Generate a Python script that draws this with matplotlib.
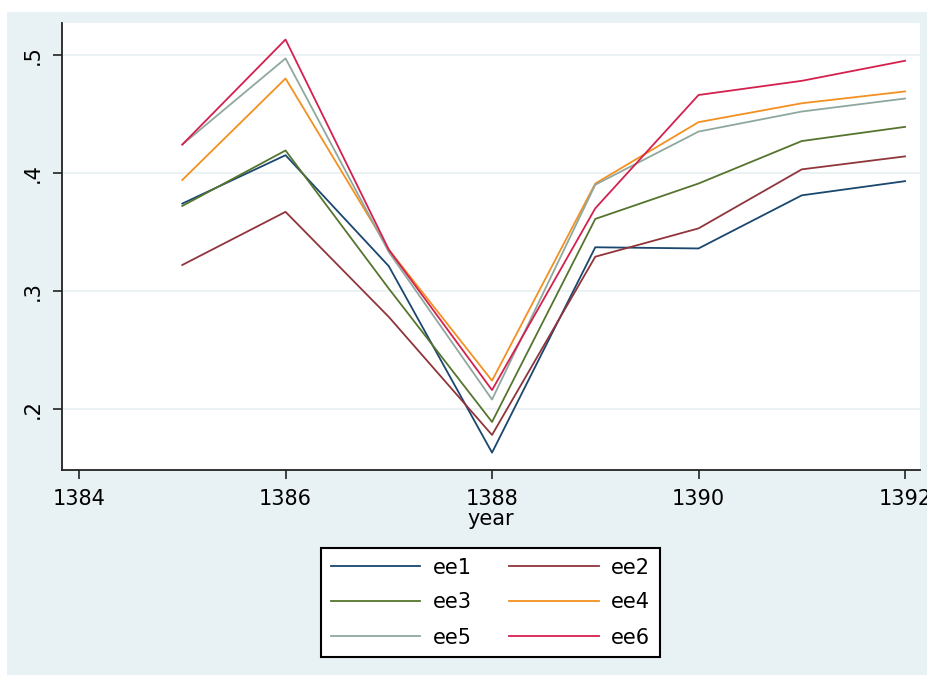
import numpy as np
from matplotlib import pyplot as plt
from matplotlib.patches import Rectangle

# Data
years = [1385, 1386, 1387, 1388, 1389, 1390, 1391, 1392]
ee1 = [0.374, 0.415, 0.321, 0.163, 0.337, 0.336, 0.381, 0.393]
ee2 = [0.322, 0.367, 0.278, 0.178, 0.329, 0.353, 0.403, 0.414]
ee3 = [0.372, 0.419, 0.302, 0.189, 0.361, 0.391, 0.427, 0.439]
ee4 = [0.394, 0.480, 0.335, 0.224, 0.391, 0.443, 0.459, 0.469]
ee5 = [0.424, 0.497, 0.333, 0.208, 0.390, 0.435, 0.452, 0.463]
ee6 = [0.424, 0.513, 0.335, 0.216, 0.370, 0.466, 0.478, 0.495]

series = [ee1, ee2, ee3, ee4, ee5, ee6]
labels = ['ee1', 'ee2', 'ee3', 'ee4', 'ee5', 'ee6']
colors = ['#1a476f', '#90353b', '#55752f', '#f39020', '#8fa89f', '#d4204f']

xticks = [1384, 1386, 1388, 1390, 1392]
yticks = [0.2, 0.3, 0.4, 0.5]
yticklabels = ['.2', '.3', '.4', '.5']

bg = '#e8f1f3'
fontsize = 15
plt.rcParams.update({'font.family': 'DejaVu Sans', 'font.size': fontsize})

fig = plt.figure(figsize=(9.28, 6.75), dpi=100, facecolor='white')
# outer graph region (behind the axes)
fig.patches.append(Rectangle((7/928, 0), 920/928, 663/675, transform=fig.transFigure,
                             facecolor=bg, edgecolor='none', zorder=-10))

ax = fig.add_axes([62/928, 1-470/675, 858/928, 447/675])
ax.set_facecolor('white')

lines = []
for y, lab, c in zip(series, labels, colors):
    ln, = ax.plot(years, y, color=c, lw=1.3, label=lab)
    lines.append(ln)

ax.set_xlim(1383.835, 1392.145)
ax.set_ylim(0.1483, 0.527)
ax.set_xticks(xticks)
ax.set_xticklabels([str(t) for t in xticks])
ax.set_yticks(yticks)
ax.set_yticklabels(yticklabels, rotation=90, va='center')
ax.yaxis.grid(True, color=bg, lw=1.3)
ax.set_axisbelow(True)

for s in ['top', 'right']:
    ax.spines[s].set_visible(False)
for s in ['left', 'bottom']:
    ax.spines[s].set_color('#222222')
    ax.spines[s].set_linewidth(1.3)
ax.tick_params(direction='out', length=6.5, width=1.2, color='#222222', labelsize=fontsize)
ax.tick_params(axis='x', pad=7)
ax.tick_params(axis='y', pad=7)

ax.set_xlabel('year', fontsize=fontsize, labelpad=0)

# legend filled row by row (matplotlib fills columns first)
order = [0, 2, 4, 1, 3, 5]
leg = ax.legend([lines[i] for i in order], [labels[i] for i in order],
                ncol=2, loc='center', bbox_to_anchor=(490.5/928, 1-602.5/675),
                bbox_transform=fig.transFigure, frameon=True, fancybox=False,
                handlelength=4.3, handletextpad=0.6, columnspacing=1.8,
                labelspacing=0.72, borderpad=0.45, fontsize=fontsize)
leg.get_frame().set_edgecolor('black')
leg.get_frame().set_linewidth(1.5)
leg.get_frame().set_facecolor('white')
leg.get_frame().set_alpha(1)

plt.savefig('out.png', dpi=100, facecolor=fig.get_facecolor())
